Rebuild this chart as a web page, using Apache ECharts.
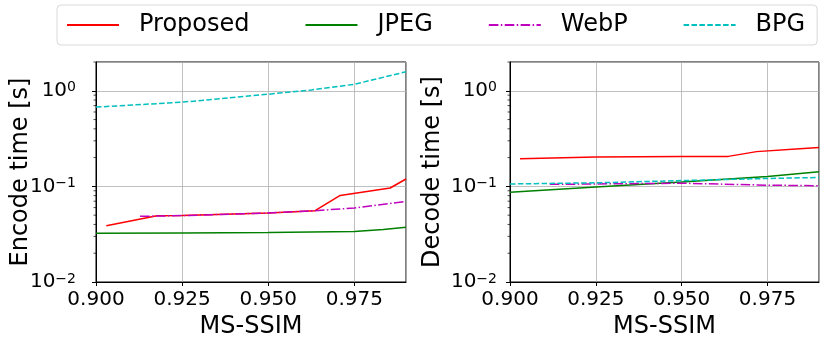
<!DOCTYPE html>
<html>
<head>
<meta charset="utf-8">
<script src="https://cdn.jsdelivr.net/npm/echarts@6/dist/echarts.min.js"></script>
<style>
  html, body { margin: 0; padding: 0; background: #fff; }
  #main { width: 831px; height: 349px; }
</style>
</head>
<body>
<div id="main"></div>
<script>
// encode time (left panel)
var encProposedX = [0.903, 0.9177, 0.925, 0.95, 0.9636, 0.9709, 0.9854, 0.99];
var encProposedY = [0.0388, 0.0494, 0.0497, 0.0527, 0.0557, 0.0805, 0.0962, 0.1195];
var encJpegX = [0.9, 0.925, 0.95, 0.975, 0.9834, 0.99];
var encJpegY = [0.0323, 0.0326, 0.0330, 0.0338, 0.0354, 0.0373];
var encWebpX = [0.9128, 0.925, 0.95, 0.9636, 0.975, 0.99];
var encWebpY = [0.0486, 0.0495, 0.0527, 0.0557, 0.0594, 0.0697];
var encBpgX = [0.9, 0.925, 0.95, 0.9625, 0.975, 0.99];
var encBpgY = [0.675, 0.76, 0.92, 1.02, 1.17, 1.58];

// decode time (right panel)
var decProposedX = [0.9029, 0.925, 0.95, 0.9636, 0.9718, 0.9844, 0.99];
var decProposedY = [0.195, 0.203, 0.206, 0.206, 0.231, 0.248, 0.255];
var decJpegX = [0.9, 0.925, 0.95, 0.975, 0.99];
var decJpegY = [0.0866, 0.0986, 0.111, 0.127, 0.1425];
var decWebpX = [0.9116, 0.925, 0.95, 0.975, 0.99];
var decWebpY = [0.105, 0.106, 0.108, 0.103, 0.1017];
var decBpgX = [0.9, 0.925, 0.95, 0.975, 0.99];
var decBpgY = [0.106, 0.109, 0.115, 0.121, 0.124];

// log minor ticks
var minorTicks = [0.02, 0.03, 0.04, 0.05, 0.06, 0.07, 0.08, 0.09,
                  0.2, 0.3, 0.4, 0.5, 0.6, 0.7, 0.8, 0.9, 2];

var font = 'DejaVu Sans';

function pairs(xs, ys) {
    return xs.map(function (x, i) { return [x, ys[i]]; });
}

var styles = {
    'Proposed': { color: '#ff0000', type: 'solid' },
    'JPEG': { color: '#008000', type: 'solid' },
    'WebP': { color: '#bf00bf', type: [9.6, 2.4, 1.5, 2.4] },
    'BPG': { color: '#00bfbf', type: [5.5, 2.4] }
};

function line(name, idx, xs, ys) {
    return {
        name: name,
        type: 'line',
        xAxisIndex: idx,
        yAxisIndex: idx,
        data: pairs(xs, ys),
        symbol: 'none',
        animation: false,
        color: styles[name].color,
        lineStyle: { color: styles[name].color, width: 1.5, type: styles[name].type }
    };
}

function minorSeries(idx) {
    return {
        type: 'custom',
        xAxisIndex: idx,
        yAxisIndex: idx,
        silent: true,
        clip: false,
        animation: false,
        data: minorTicks.map(function (v) { return [0.9, v]; }),
        renderItem: function (params, api) {
            var p = api.coord([api.value(0), api.value(1)]);
            return {
                type: 'line',
                shape: { x1: p[0] - 2.5, y1: p[1], x2: p[0], y2: p[1] },
                style: { stroke: '#000', lineWidth: 0.7 }
            };
        }
    };
}

function xAxis(idx) {
    return {
        type: 'value', gridIndex: idx,
        min: 0.9, max: 0.99, interval: 0.025,
        name: 'MS-SSIM', nameLocation: 'middle', nameGap: 33,
        nameMoveOverlap: false,
        nameTextStyle: { fontFamily: font, fontSize: 24, color: '#000' },
        axisLine: { lineStyle: { color: '#000', width: 1 } },
        axisTick: { length: 4, lineStyle: { color: '#000' } },
        axisLabel: {
            fontFamily: font, fontSize: 20, color: '#000', margin: 8,
            showMaxLabel: false,
            formatter: function (v) { return v.toFixed(3); }
        },
        splitLine: { show: true, lineStyle: { color: '#b0b0b0', width: 0.8 } }
    };
}

function yAxis(idx, name, gap, margin) {
    return {
        type: 'log', logBase: 10, gridIndex: idx,
        min: 0.01, max: 2, interval: 1,
        name: name, nameLocation: 'middle', nameGap: gap,
        nameMoveOverlap: false,
        nameTextStyle: { fontFamily: font, fontSize: 24, color: '#000' },
        axisLine: { show: true, lineStyle: { color: '#000', width: 1 } },
        axisTick: { length: 4, lineStyle: { color: '#000' } },
        axisLabel: {
            fontFamily: font, color: '#000', margin: margin,
            showMaxLabel: false,
            formatter: function (v) {
                var e = Math.round(Math.log10(v));
                return '{b|10}{s|' + (e < 0 ? '\u2212' + (-e) : e) + '}';
            },
            rich: {
                b: { fontFamily: font, fontSize: 20, lineHeight: 20, color: '#000' },
                s: { fontFamily: font, fontSize: 14, lineHeight: 14, verticalAlign: 'top', color: '#000', padding: [0, 0, 6, 0] }
            }
        },
        splitLine: { show: true, lineStyle: { color: '#b0b0b0', width: 0.8 } }
    };
}

var chart = echarts.init(document.getElementById('main'), null, { renderer: 'canvas' });

chart.setOption({
    animation: false,
    backgroundColor: '#fff',
    legend: {
        data: ['Proposed', 'JPEG', 'WebP', 'BPG'],
        left: 57, top: 5,
        padding: [8, 12, 8, 9],
        itemWidth: 52, itemHeight: 14, itemGap: 55,
        itemStyle: { opacity: 0 },
        borderColor: '#d9d9d9', borderWidth: 1, borderRadius: 4,
        textStyle: { fontFamily: font, fontSize: 24, color: '#000', padding: [0, 0, 0, 15] }
    },
    grid: [
        { left: 96, right: 425, top: 62, bottom: 67, show: true, borderColor: '#000', borderWidth: 1, containLabel: false },
        { left: 510, right: 12, top: 62, bottom: 67, show: true, borderColor: '#000', borderWidth: 1, containLabel: false }
    ],
    xAxis: [xAxis(0), xAxis(1)],
    yAxis: [yAxis(0, 'Encode time [s]', 63, 20), yAxis(1, 'Decode time [s]', 65, 13)],
    series: [
        line('Proposed', 0, encProposedX, encProposedY),
        line('JPEG', 0, encJpegX, encJpegY),
        line('WebP', 0, encWebpX, encWebpY),
        line('BPG', 0, encBpgX, encBpgY),
        line('Proposed', 1, decProposedX, decProposedY),
        line('JPEG', 1, decJpegX, decJpegY),
        line('WebP', 1, decWebpX, decWebpY),
        line('BPG', 1, decBpgX, decBpgY),
        minorSeries(0),
        minorSeries(1)
    ]
});
</script>
</body>
</html>
